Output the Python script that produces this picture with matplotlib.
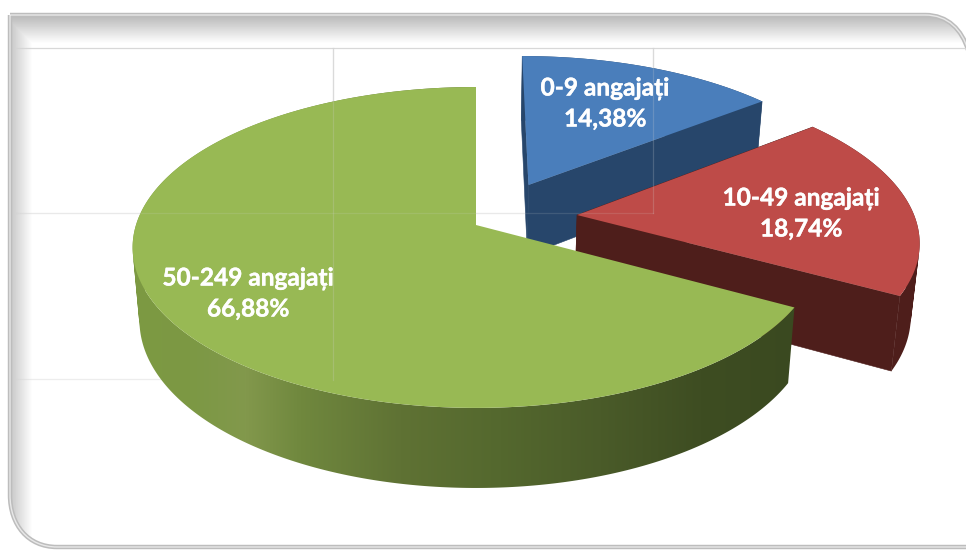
import numpy as np
import matplotlib
matplotlib.use("Agg")
import matplotlib.pyplot as plt
import matplotlib.patheffects as pe
from matplotlib.path import Path
from matplotlib.patches import PathPatch, Polygon

# Data
categories = ["0-9 angajați", "10-49 angajați", "50-249 angajați"]
shares = [14.38, 18.74, 66.88]
share_labels = ["14,38%", "18,74%", "66,88%"]

# Colours
top_colors = ["#4a7ebb", "#be4b48", "#98b954"]
side_colors = ["#27466b", "#4e1e1b", None]
green_x = [132, 190, 245, 300, 400, 500, 600, 700, 800]
green_rgb = np.array([
    [125, 154, 66], [124, 152, 68], [130, 152, 76], [112, 136, 62], [95, 114, 52],
    [84, 104, 46], [74, 91, 41], [62, 77, 34], [58, 73, 32]]) / 255

# Pie layout (pixels)
explode = [(0.16, 0.264), (0.30, 0.064), (0.0, 0.0)]
label_xy = [(605, 103.5), (801, 213.5), (248, 293.5)]
cx, cy, rx, ry, k = 476, 225, 340, 157.3, 0.14
depth, shrink = 72, 0.98


def project(x, y):
    w = 1 + k * y
    return cx + rx * x / w, cy - ry * y / w


def drop(px, py, y):
    # the lower face of the pie, for the same disc point
    w = 1 + k * y
    return cx + (px - cx) * shrink, cy + (py - cy) * shrink + depth / w


def wedge_arc(start, end, off):
    a = np.radians(np.linspace(start, end, max(int(end - start) * 2, 2) + 1))
    return np.sin(a) + off[0], np.cos(a) + off[1]


def rim_path(px, py, bx, by):
    # one quad per arc step, all wound the same way so overlaps stay filled
    verts, codes = [], []
    for j in range(len(px) - 1):
        quad = np.array([(px[j], py[j]), (px[j + 1], py[j + 1]),
                         (bx[j + 1], by[j + 1]), (bx[j], by[j])])
        x, y = quad[:, 0], quad[:, 1]
        if np.sum(x * np.roll(y, -1) - np.roll(x, -1) * y) < 0:
            quad = quad[::-1]
        verts += list(quad) + [quad[0]]
        codes += [Path.MOVETO, Path.LINETO, Path.LINETO, Path.LINETO, Path.CLOSEPOLY]
    return Path(verts, codes)


fig = plt.figure(figsize=(9.66, 5.51), dpi=100)
ax = fig.add_axes([0, 0, 1, 1])
ax.axis("off")

# Frame with inner shadow
codes = [Path.MOVETO, Path.LINETO, Path.CURVE4, Path.CURVE4, Path.CURVE4, Path.LINETO,
         Path.LINETO, Path.LINETO, Path.CURVE4, Path.CURVE4, Path.CURVE4, Path.CLOSEPOLY]
verts = [(10, 15), (925, 15), (948, 15), (962, 30), (968, 50), (970, 546), (970, 547),
         (57, 547), (28, 547), (10, 525), (10, 495), (10, 15)]
frame = Path(verts, codes)
top_fade = np.clip((np.arange(551) - 17) / 26, 0, 1)
left_fade = np.clip((np.arange(966) - 12) / 20, 0, 1)
h = np.minimum(0.74 + 0.26 * top_fade[:, None], 0.80 + 0.20 * left_fade[None, :])
bg = ax.imshow(h, cmap="gray", vmin=0, vmax=1, extent=(0, 966, 551, 0), aspect="auto", zorder=0)
bg.set_clip_path(PathPatch(frame, transform=ax.transData))
ax.set_xlim(0, 966)
ax.set_ylim(551, 0)
ax.add_patch(PathPatch(frame, fill=False, ec="#bdbdbd", lw=3.2, zorder=1))
ax.add_patch(PathPatch(frame, fill=False, ec="#e8e8e8", lw=1, zorder=1))

# Faint lines of the embedded sheet
line_col = "#d4d4d4"
h_lines = [(15, 966, 48), (15, 653, 213), (15, 333, 379)]
v_lines = [(333, 48, 380), (653, 48, 213)]
for x0, x1, y in h_lines:
    ax.plot([x0, x1], [y, y], color=line_col, alpha=0.9 if y == 48 else 0.4, lw=0.9, zorder=2)
for x, y0, y1 in v_lines:
    ax.plot([x, x], [y0, y1], color=line_col, alpha=0.8, lw=0.9, zorder=2)

# Wedges, back to front
edges = np.concatenate([[0], np.cumsum(shares)]) * 3.6
for i in range(len(shares)):
    off = explode[i]
    ax_, ay_ = project(off[0], off[1])
    xs, ys = wedge_arc(edges[i], edges[i + 1], off)
    px, py = project(xs, ys)
    bx, by = drop(px, py, ys)
    abx, aby = drop(ax_, ay_, off[1])
    rim = rim_path(px, py, bx, by)

    if side_colors[i] is not None:
        for j in (0, -1):
            face = [(ax_, ay_), (px[j], py[j]), (bx[j], by[j]), (abx, aby)]
            ax.add_patch(Polygon(face, fc=side_colors[i], ec=side_colors[i], lw=0.4, zorder=3))
        ax.add_patch(PathPatch(rim, fc=side_colors[i], ec="none", zorder=3))
    else:
        # rim shading runs left to right
        grad_x = np.arange(966)
        grad = np.column_stack([np.interp(grad_x, green_x, green_rgb[:, c]) for c in range(3)])
        im = ax.imshow(grad[None, :, :], extent=(0, 966, 551, 0), aspect="auto", zorder=3)
        im.set_clip_path(PathPatch(rim, transform=ax.transData))
        ax.set_xlim(0, 966)
        ax.set_ylim(551, 0)

    top = np.column_stack([np.r_[ax_, px], np.r_[ay_, py]])
    ax.add_patch(Polygon(top, fc=top_colors[i], ec="none", zorder=3))

# The same lines show faintly through the pie
for x, y0, y1 in v_lines:
    ax.plot([x, x], [y0, y1], color=line_col, alpha=0.22, lw=0.9, zorder=4)
ax.plot([15, 653], [213, 213], color=line_col, alpha=0.15, lw=0.9, zorder=4)

# Labels
for name, pct, (tx, ty) in zip(categories, share_labels, label_xy):
    t = ax.text(tx, ty, name + "\n" + pct, color="white", ha="center", va="center",
                fontsize=17.6, fontweight="bold", family=["Lato", "DejaVu Sans"],
                linespacing=1.42, zorder=5)
    t.set_path_effects([pe.withStroke(linewidth=0.3, foreground="white")])

fig.savefig("out.png", dpi=100)
